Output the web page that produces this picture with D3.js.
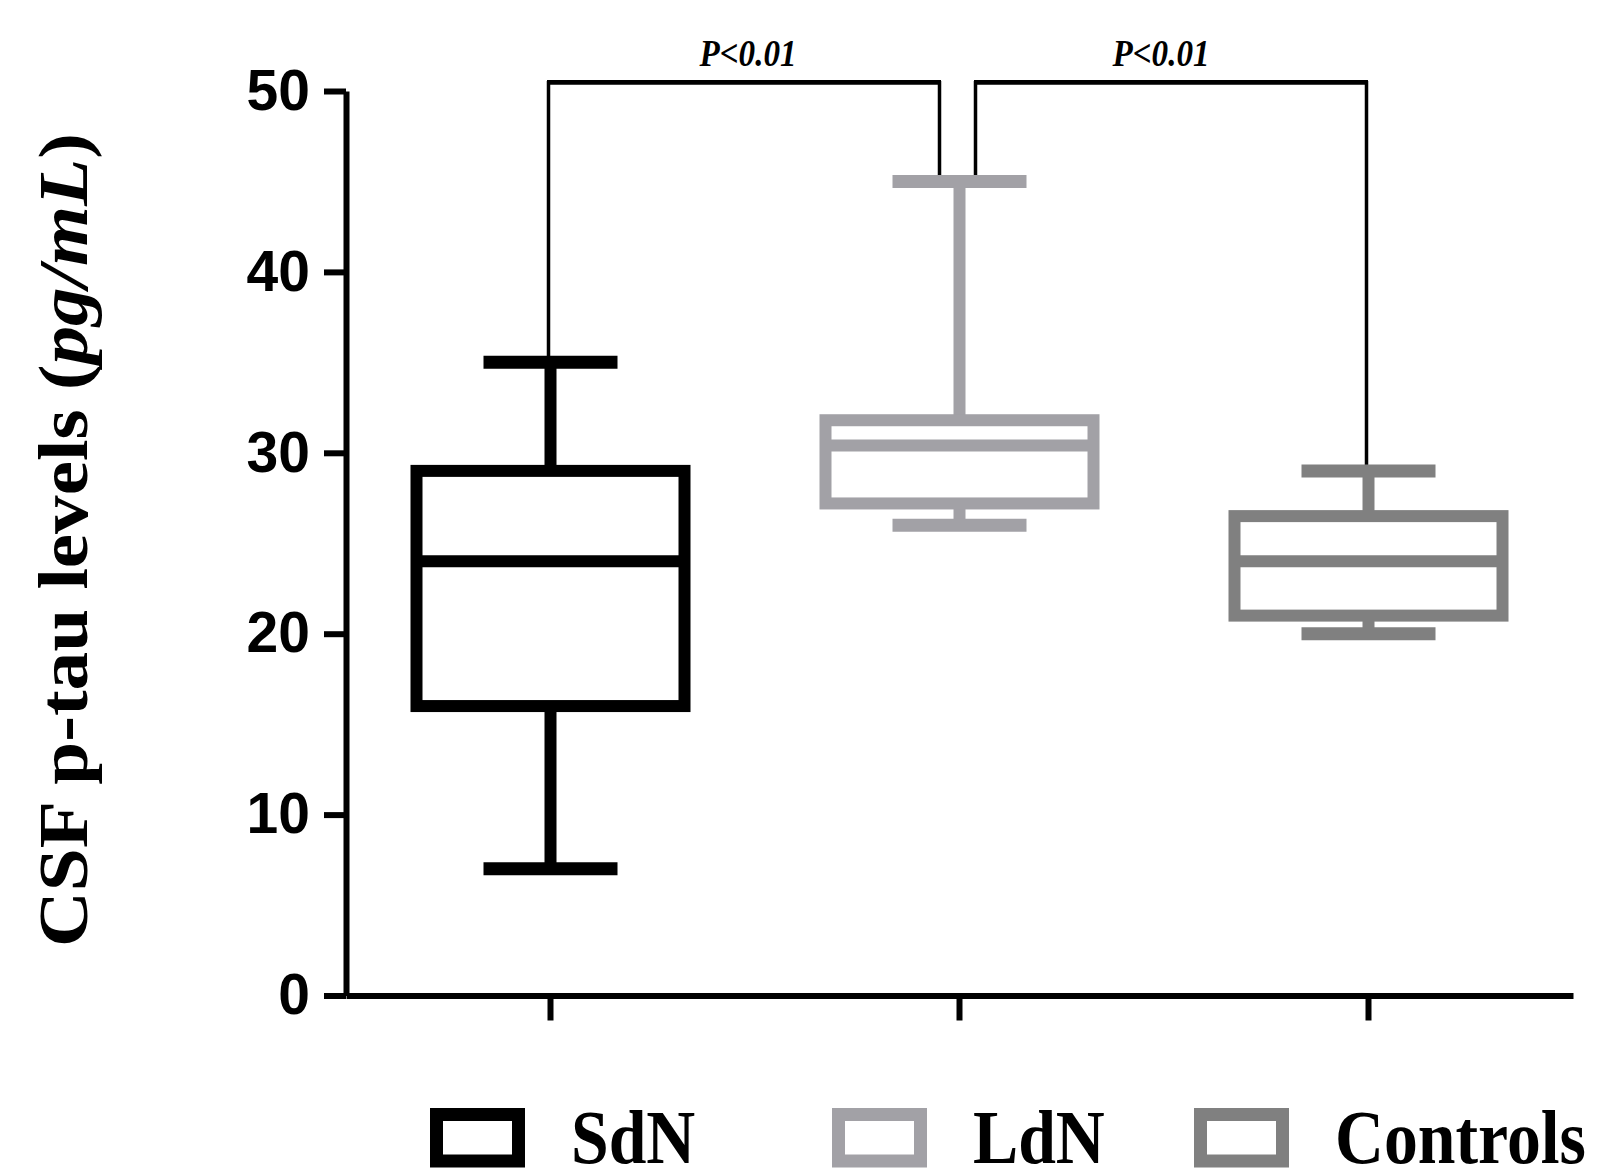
<!DOCTYPE html>
<html lang="en">
<head>
<meta charset="UTF-8">
<title>CSF p-tau levels</title>
<script src="https://d3js.org/d3.v7.min.js"></script>
<style>
    body { margin: 0; background: #fff; }
    svg { display: block; }
    .y-axis text { font-family: 'Liberation Sans', Arial, sans-serif; font-weight: bold; font-size: 57px; fill: #000; }
    .serif { font-family: 'Liberation Serif', 'Times New Roman', serif; font-weight: bold; fill: #000; }
</style>
</head>
<body>
<div id="chart"></div>
<script>
    // data
    const groups = ["SdN", "LdN", "Controls"];
    const mins = [7, 26, 20];
    const q1s = [16, 27.2, 21];
    const medians = [24, 30.4, 24];
    const q3s = [29, 31.8, 26.5];
    const maxs = [35, 45, 29];
    const colors = ["#000000", "#a2a1a6", "#808080"];
    const yTicks = [0, 10, 20, 30, 40, 50];
    const comparisons = [["SdN", "LdN"], ["LdN", "Controls"]];
    const pLabels = ["P<0.01", "P<0.01"];
    const bracketLevel = 50.45;

    const W = 1621, H = 1168;
    const svg = d3.select("#chart").append("svg")
        .attr("width", W).attr("height", H);

    const x = d3.scaleBand().domain(groups).range([346, 1573]).padding(0);
    const cx = g => x(g) + x.bandwidth() / 2;
    const y = d3.scaleLinear().domain([0, 50]).range([995.5, 91]);

    const boxHalf = 134, capHalf = 67;

    // brackets (drawn first, boxes sit on top)
    const br = svg.append("g");
    comparisons.forEach((c, i) => {
        const shiftL = i === 0 ? -2 : 16;
        const shiftR = i === 0 ? -20 : -2;
        const x1 = cx(c[0]) + shiftL, x2 = cx(c[1]) + shiftR;
        const top = y(bracketLevel);
        const e1 = y(maxs[groups.indexOf(c[0])]);
        const e2 = y(maxs[groups.indexOf(c[1])]);
        br.append("path")
            .attr("d", `M${x1},${e1} V${top} H${x2} V${e2}`)
            .attr("fill", "none").attr("stroke", "#000")
            .attr("stroke-width", 3.5);
        br.append("line")
            .attr("x1", x1 - 1.5).attr("x2", x2 + 1.5)
            .attr("y1", top - 0.5).attr("y2", top - 0.5)
            .attr("stroke", "#000").attr("stroke-width", 4.5);
        const lx = (x1 + x2) / 2 + (i === 0 ? 4 : -10);
        br.append("text")
            .attr("class", "serif")
            .attr("transform", `translate(${lx},66) scale(0.92,1.08)`)
            .attr("text-anchor", "middle")
            .attr("font-size", 36).attr("font-style", "italic")
            .text(pLabels[i]);
    });

    // y axis
    svg.append("g")
        .attr("class", "y-axis")
        .attr("transform", "translate(346,0)")
        .call(d3.axisLeft(y).tickValues(yTicks).tickSize(22).tickSizeOuter(0).tickPadding(14))
        .call(g => g.selectAll("line, path").attr("stroke", "#000").attr("stroke-width", 6));

    // x axis
    svg.append("g")
        .attr("transform", "translate(0,995.5)")
        .call(d3.axisBottom(x).tickSize(25).tickSizeOuter(0).tickFormat(""))
        .call(g => g.selectAll("line, path").attr("stroke", "#000").attr("stroke-width", 6));

    // boxes
    const box = svg.selectAll(".box").data(groups).join("g").attr("class", "box");
    box.each(function(g, i) {
        const s = d3.select(this), c = cx(g), col = colors[i];
        s.append("line").attr("x1", c).attr("x2", c)
            .attr("y1", y(q3s[i])).attr("y2", y(maxs[i]))
            .attr("stroke", col).attr("stroke-width", 12);
        s.append("line").attr("x1", c).attr("x2", c)
            .attr("y1", y(q1s[i])).attr("y2", y(mins[i]))
            .attr("stroke", col).attr("stroke-width", 12);
        [maxs[i], mins[i]].forEach(v => {
            s.append("line").attr("x1", c - capHalf).attr("x2", c + capHalf)
                .attr("y1", y(v)).attr("y2", y(v))
                .attr("stroke", col).attr("stroke-width", 13);
        });
        s.append("rect")
            .attr("x", c - boxHalf).attr("width", boxHalf * 2)
            .attr("y", y(q3s[i])).attr("height", y(q1s[i]) - y(q3s[i]))
            .attr("fill", "none").attr("stroke", col).attr("stroke-width", 12);
        s.append("line").attr("x1", c - boxHalf).attr("x2", c + boxHalf)
            .attr("y1", y(medians[i])).attr("y2", y(medians[i]))
            .attr("stroke", col).attr("stroke-width", 12);
    });

    // y axis title
    const yt = svg.append("text")
        .attr("class", "serif")
        .attr("font-size", 70)
        .attr("text-anchor", "middle");
    yt.append("tspan").text("CSF p-tau levels (");
    yt.append("tspan").attr("font-style", "italic").text("pg/mL");
    yt.append("tspan").text(")");
    const ylen = yt.node().getComputedTextLength();
    yt.attr("transform", `translate(87,540) rotate(-90) scale(${814 / ylen},1)`);

    // legend (cut at the bottom edge, as in the original figure)
    const legendX = [430, 832, 1194];
    const leg = svg.selectAll(".leg").data(groups).join("g")
        .attr("class", "leg")
        .attr("transform", (d, i) => `translate(${legendX[i]},1108)`);
    leg.append("rect")
        .attr("x", 6.5).attr("y", 6.5).attr("width", 82).attr("height", 46.5)
        .attr("fill", "none").attr("stroke", (d, i) => colors[i]).attr("stroke-width", 13);
    leg.append("text")
        .attr("class", "serif")
        .attr("font-size", 77)
        .attr("transform", "translate(141,55) scale(0.88,1)")
        .text(d => d);
</script>
</body>
</html>
